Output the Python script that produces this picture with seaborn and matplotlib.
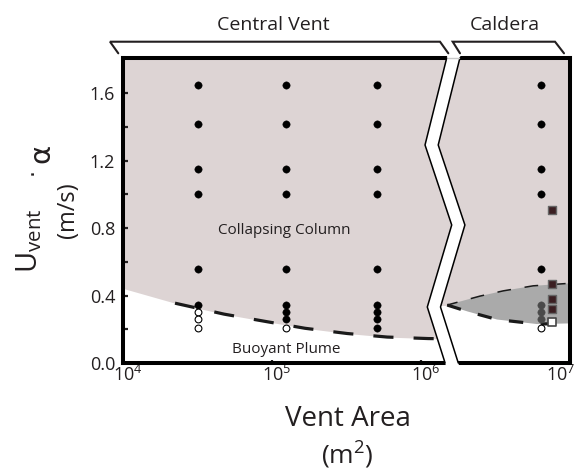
import numpy as np
import pandas as pd
import matplotlib
matplotlib.use("Agg")
import matplotlib.pyplot as plt
from matplotlib.patches import Polygon
from matplotlib.ticker import FixedLocator, NullLocator, NullFormatter, LogFormatterMathtext
from matplotlib.transforms import ScaledTranslation
import seaborn as sns

# ---------------- data ----------------
x_tick_values = [1e4, 1e5, 1e6, 1e7]
y_tick_values = [0.0, 0.4, 0.8, 1.2, 1.6]
y_tick_labels = ["0.0", "0.4", "0.8", "1.2", "1.6"]
y_minor_values = [0.2, 0.6, 1.0, 1.4]

col1_area = 3.2e4
col2_area = 1.25e5
col3_area = 5.1e5
caldera_area = 6.4e6
caldera_sq_area = 7.6e6

col1_collapse = [1.65, 1.42, 1.15, 1.00, 0.56, 0.345]
col1_buoyant = [0.30, 0.26, 0.21]
col2_collapse = [1.65, 1.42, 1.15, 1.00, 0.56, 0.345, 0.30, 0.26]
col2_buoyant = [0.21]
col3_collapse = [1.65, 1.42, 1.15, 1.00, 0.56, 0.345, 0.30, 0.26, 0.21]
caldera_collapse = [1.65, 1.42, 1.15, 1.00, 0.56]
caldera_partial = [0.345, 0.30, 0.26]
caldera_buoyant = [0.21]
square_filled = [0.905, 0.466, 0.377, 0.318]
square_open = [0.245]

central_bound_area = [1.0e4, 2.24e4, 4.78e4, 9.15e4, 1.67e5, 3.2e5, 5.93e5, 1.12e6, 1.7e6]
central_bound_u = [0.443, 0.355, 0.290, 0.246, 0.206, 0.175, 0.154, 0.145, 0.143]
caldera_upper_area = [1.5e6, 2.49e6, 3.56e6, 5.66e6, 9.58e6, 1.0e7]
caldera_upper_u = [0.344, 0.397, 0.428, 0.458, 0.472, 0.474]
caldera_lower_area = [1.5e6, 2.07e6, 3.24e6, 6.03e6, 1.0e7]
caldera_lower_u = [0.344, 0.305, 0.258, 0.231, 0.235]

y_max = 1.81

# ---------------- style ----------------
sns.set_style("white")
plt.rcParams["font.family"] = ["Open Sans", "DejaVu Sans"]
plt.rcParams["axes.linewidth"] = 2.9

PINK = "#ddd4d4"
LENS = "#aaaaaa"
INK = "#231f20"

W, H = 584, 471
def fx(px):
    return px / W
def fy(py):
    return 1 - py / H

fig = plt.figure(figsize=(W / 100, H / 100), dpi=100)
ax = fig.add_axes([fx(122.8), fy(363), 447.2 / W, 305 / H])
ax.set_xscale("log")
ax.set_xlim(1e4, 1e7)
ax.set_ylim(0, y_max)

# ---------------- break geometry (axes fraction) ----------------
brk_y = np.array([1.0, 0.7148, 0.4525, 0.1836, 0.0])
brk_left = np.array([0.7243, 0.6758, 0.7355, 0.6809, 0.7207])
brk_w = 0.0295

def extend(xs, ys, e=0.012):
    x_top = xs[0] + (xs[0] - xs[1]) / (ys[0] - ys[1]) * e
    x_bot = xs[-1] + (xs[-1] - xs[-2]) / (ys[-1] - ys[-2]) * (-e)
    return np.r_[x_top, xs, x_bot], np.r_[ys[0] + e, ys, ys[-1] - e]

bl_x, bl_y = extend(brk_left, brk_y)
br_x, br_y = extend(brk_left + brk_w, brk_y)
bc_x = brk_left + brk_w / 2

left_clip = Polygon(np.c_[np.r_[-0.1, bc_x, -0.1], np.r_[1.1, brk_y, -0.1]],
                    closed=True, transform=ax.transAxes)
right_clip = Polygon(np.c_[np.r_[1.1, bc_x, 1.1], np.r_[1.1, brk_y, -0.1]],
                     closed=True, transform=ax.transAxes)

# ---------------- regions ----------------
f1 = ax.fill_between(central_bound_area, central_bound_u, y_max, color=PINK, lw=0, zorder=0)
f1.set_clip_path(left_clip)
right_x = np.r_[1.1e6, caldera_upper_area]
right_y = np.r_[caldera_upper_u[0], caldera_upper_u]
f2 = ax.fill_between(right_x, right_y, y_max, color=PINK, lw=0, zorder=0)
f2.set_clip_path(right_clip)
lens = ax.fill(np.r_[caldera_upper_area, caldera_lower_area[::-1]],
               np.r_[caldera_upper_u, caldera_lower_u[::-1]],
               color=LENS, lw=0, zorder=0.5)

# ---------------- boundary lines ----------------
sns.lineplot(x=central_bound_area[1:], y=central_bound_u[1:], ax=ax, color="#1a1a1a",
             lw=2.3, linestyle=(0, (6.3, 6.3)), zorder=2, sort=False)
ax.lines[-1].set_clip_path(left_clip)
sns.lineplot(x=caldera_lower_area, y=caldera_lower_u, ax=ax, color="#1a1a1a",
             lw=2.3, linestyle=(0, (4.5, 5.5)), zorder=2, sort=False)
sns.lineplot(x=caldera_upper_area, y=caldera_upper_u, ax=ax, color="#1a1a1a",
             lw=1.1, linestyle=(2, (9, 9)), zorder=2, sort=False)

# ---------------- points ----------------
def col(area, vals):
    return [area] * len(vals)

filled_x = col(col1_area, col1_collapse) + col(col2_area, col2_collapse) + \
    col(col3_area, col3_collapse) + col(caldera_area, caldera_collapse)
filled_y = col1_collapse + col2_collapse + col3_collapse + caldera_collapse
open_x = col(col1_area, col1_buoyant) + col(col2_area, col2_buoyant) + col(caldera_area, caldera_buoyant)
open_y = col1_buoyant + col2_buoyant + caldera_buoyant

sns.scatterplot(x=filled_x, y=filled_y, ax=ax, s=28, color="black", edgecolor="black",
                linewidth=0.3, zorder=3)
sns.scatterplot(x=open_x, y=open_y, ax=ax, s=24, color="white", edgecolor="black",
                linewidth=0.8, zorder=3)
sns.scatterplot(x=col(caldera_area, caldera_partial), y=caldera_partial, ax=ax, s=28,
                color="#4a4a4a", edgecolor="#4a4a4a", linewidth=0.3, zorder=3)
sns.scatterplot(x=col(caldera_sq_area, square_filled), y=square_filled, ax=ax, s=36,
                marker="s", color="#3b1f22", edgecolor="#666666", linewidth=1.0, zorder=4)
sns.scatterplot(x=col(caldera_sq_area, square_open), y=square_open, ax=ax, s=36,
                marker="s", color="white", edgecolor="#444444", linewidth=1.2, zorder=4)

# ---------------- region labels ----------------
ax.text(1.21e5, 0.785, "Collapsing Column", ha="center", va="center", fontsize=11, color=INK)
ax.text(1.245e5, 0.083, "Buoyant Plume", ha="center", va="center", fontsize=11, color=INK)

# ---------------- ticks ----------------
ax.xaxis.set_major_locator(FixedLocator(x_tick_values))
ax.xaxis.set_major_formatter(LogFormatterMathtext())
ax.xaxis.set_minor_locator(NullLocator())
ax.yaxis.set_major_locator(FixedLocator(y_tick_values))
ax.set_yticklabels(y_tick_labels)
ax.yaxis.set_minor_locator(FixedLocator(y_minor_values))
ax.yaxis.set_minor_formatter(NullFormatter())
ax.tick_params(axis="y", which="both", direction="in", length=3.6, width=1.6,
               left=True, right=False, labelsize=13, pad=5.5, colors=INK)
ax.tick_params(axis="x", which="major", direction="in", length=2.2, width=1.6,
               bottom=True, top=False, labelsize=13, pad=1.5, colors=INK)
for sp in ax.spines.values():
    sp.set_color("black")
    sp.set_linewidth(2.9)

fig.canvas.draw()
xlabels = ax.get_xticklabels()
for i, lab in enumerate(xlabels):
    dx = 5 if i < len(xlabels) - 1 else -9
    lab.set_transform(lab.get_transform() + ScaledTranslation(dx / 100, 0, fig.dpi_scale_trans))

# ---------------- axis break ----------------
ax.add_patch(Polygon(np.c_[np.r_[bl_x, br_x[::-1]], np.r_[bl_y, br_y[::-1]]], closed=True,
                     facecolor="white", edgecolor="none", transform=ax.transAxes,
                     clip_on=False, zorder=5))
ax.plot(bl_x[1:-1], bl_y[1:-1], color="black", lw=1.1, transform=ax.transAxes, clip_on=False, zorder=6)
ax.plot(br_x[1:-1], br_y[1:-1], color="black", lw=1.1, transform=ax.transAxes, clip_on=False, zorder=6)
ax.plot([brk_left[0] + 0.003, brk_left[0] + brk_w - 0.003], [1.0, 1.0], color="#c8c8c8",
        lw=1.0, transform=ax.transAxes, clip_on=False, zorder=6)

# ---------------- brackets & group labels ----------------
bx1 = [-0.0101, -0.0286, 0.7093, 0.7279]
bx2 = [0.7540, 0.7377, 0.9665, 0.9866]
by = [1.0154, 1.0534, 1.0534, 1.0154]
for bx in (bx1, bx2):
    ax.plot(bx, by, color=INK, lw=1.5, transform=ax.transAxes, clip_on=False,
            solid_joinstyle="miter", zorder=6)
ax.text(0.3359, 1.108, "Central Vent", transform=ax.transAxes, ha="center", va="center",
        fontsize=14, color=INK)
ax.text(0.8546, 1.108, "Caldera", transform=ax.transAxes, ha="center", va="center",
        fontsize=14, color=INK)

# ---------------- axis titles ----------------
fig.text(fx(37), fy(273), r"$\mathdefault{U_{vent}}$", rotation=90, rotation_mode="anchor",
         ha="left", va="baseline", fontsize=21, color=INK)
fig.text(fx(33), fy(172), "·", rotation=90, ha="center", va="center",
         fontsize=16, color=INK, family=["DejaVu Sans"])
fig.text(fx(41), fy(153), "α", rotation=90, ha="center", va="center",
         fontsize=21, color=INK, family=["DejaVu Sans"])
fig.text(fx(68), fy(210), "(m/s)", rotation=90, ha="center", va="center",
         fontsize=17, color=INK)
fig.text(fx(348), fy(419), "Vent Area", ha="center", va="center", fontsize=20, color=INK)
fig.text(fx(347), fy(454), r"(m$^{\mathdefault{2}}$)", ha="center", va="center", fontsize=19,
         color=INK)

fig.savefig("out.png", dpi=100)
